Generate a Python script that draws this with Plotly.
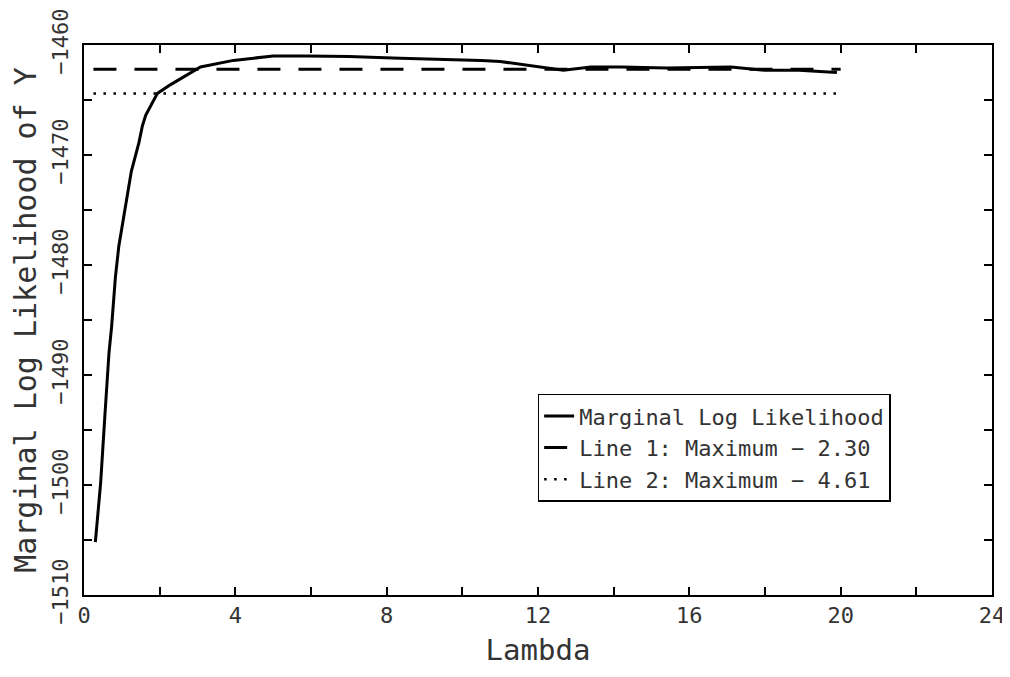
import plotly.graph_objects as go

# Data
lambda_vals = [0.30, 0.44, 0.55, 0.66, 0.73, 0.83, 0.92, 1.08, 1.25, 1.45, 1.54, 1.63,
               1.84, 1.94, 2.29, 3.08, 3.95, 5.0, 5.9, 7.0, 8.36, 9.5, 10.5, 11.0,
               11.6, 12.2, 12.67, 13.4, 14.2, 15.4, 16.3, 17.1, 18.0, 18.9, 19.9]
marginal_loglik = [-1505.2, -1499.8, -1493.8, -1488.0, -1485.6, -1481.1, -1478.3, -1475.0,
                   -1471.5, -1468.9, -1467.4, -1466.4, -1465.0, -1464.4, -1463.6, -1462.0,
                   -1461.4, -1461.0, -1461.0, -1461.05, -1461.2, -1461.3, -1461.4, -1461.5,
                   -1461.8, -1462.1, -1462.3, -1462.0, -1462.0, -1462.1, -1462.05, -1462.0,
                   -1462.3, -1462.3, -1462.5]
ref_line_x = [0.25, 20.0]
line1_y = [-1462.2, -1462.2]
line2_y = [-1464.4, -1464.4]
x_tick_vals = [0, 4, 8, 12, 16, 20, 24]
y_tick_vals = [-1510, -1500, -1490, -1480, -1470, -1460]
names = ["Marginal Log Likelihood", "Line 1: Maximum \u2212 2.30", "Line 2: Maximum \u2212 4.61"]

FONT = "DejaVu Sans Mono"
TXT = "#333333"

fig = go.Figure()
fig.add_trace(go.Scatter(x=lambda_vals, y=marginal_loglik, mode="lines", name=names[0],
                         line=dict(color="black", width=3)))
fig.add_trace(go.Scatter(x=ref_line_x, y=line1_y, mode="lines", name=names[1],
                         line=dict(color="black", width=3, dash="23px,18px")))
fig.add_trace(go.Scatter(x=ref_line_x, y=line2_y, mode="lines", name=names[2],
                         line=dict(color="black", width=2.5, dash="2.5px,7.5px")))

axis_common = dict(showline=True, linecolor="black", linewidth=2, mirror="allticks",
                   ticks="inside", ticklen=8, tickwidth=1.5, tickcolor="black",
                   showgrid=False, zeroline=False, automargin=False,
                   tickfont=dict(family=FONT, size=22, color=TXT))

fig.update_xaxes(range=[0, 24], tickvals=x_tick_vals,
                 ticktext=[str(v) for v in x_tick_vals],
                 ticklabelstandoff=0,
                 minor=dict(dtick=2, tick0=0, ticks="inside", ticklen=8, tickcolor="black", tickwidth=1.5),
                 title=dict(text="Lambda", font=dict(family=FONT, size=29, color=TXT), standoff=12),
                 **axis_common)
fig.update_yaxes(range=[-1510, -1460], tickvals=y_tick_vals,
                 ticktext=["\u22121510", "\u22121500", "\u22121490", "\u22121480", "\u22121470", "\u22121460"],
                 tickangle=-90, ticklabelstandoff=5,
                 minor=dict(dtick=5, tick0=-1510, ticks="inside", ticklen=8, tickcolor="black", tickwidth=1.5),
                 title=dict(text="Marginal Log Likelihood of Y", font=dict(family=FONT, size=30, color=TXT), standoff=22),
                 **axis_common)

fig.update_layout(
    width=1002, height=669,
    margin=dict(l=76, r=18, t=37, b=82),
    paper_bgcolor="white", plot_bgcolor="white",
    showlegend=True,
    legend=dict(x=0.694, y=0.366, xanchor="center", yanchor="top",
                bgcolor="white", bordercolor="black", borderwidth=1.5,
                font=dict(family=FONT, size=22, color=TXT)),
)

fig.write_html("out.html")
